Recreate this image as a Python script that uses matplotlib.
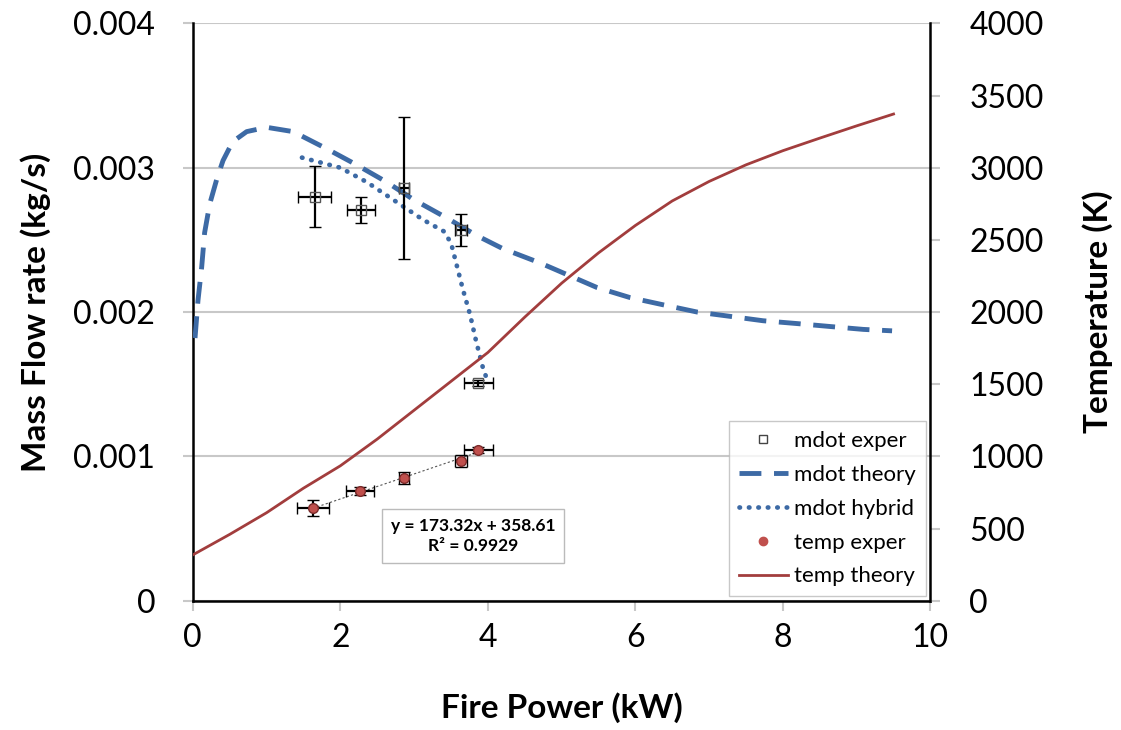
import matplotlib
matplotlib.use('Agg')
import matplotlib.pyplot as plt
from matplotlib.lines import Line2D
import numpy as np

plt.rcParams['font.family'] = ['Lato', 'DejaVu Sans']

# mdot experiments (kg/s)
mdot_x = [1.65, 2.28, 2.86, 3.64, 3.87]
mdot_y = [0.00280, 0.00271, 0.00286, 0.00257, 0.00151]
mdot_xerr = [0.22, 0.19, 0.07, 0.08, 0.20]
mdot_yerr = [0.00021, 0.00009, 0.00049, 0.00011, 0.00002]

# mdot theory
th_x = [0.03, 0.07, 0.12, 0.16, 0.23, 0.33, 0.41, 0.54, 0.73, 1.0, 1.36, 1.82, 2.22, 2.63,
        2.99, 3.45, 3.85, 4.2, 4.71, 5.48, 5.93, 6.38, 6.84, 7.29, 7.73, 8.2, 8.64, 9.09, 9.48]
th_y = [0.00182, 0.00208, 0.00231, 0.00255, 0.00275, 0.00293, 0.00305, 0.00318, 0.00325,
        0.00328, 0.00325, 0.00313, 0.00302, 0.00290, 0.00278, 0.00265, 0.00253, 0.00244,
        0.00234, 0.00217, 0.00210, 0.00205, 0.00200, 0.00197, 0.00194, 0.00192, 0.00190,
        0.00188, 0.00187]

# mdot hybrid
hy_x = [1.48, 2.0, 2.36, 2.77, 3.12, 3.4, 3.5, 3.58, 3.66, 3.76, 3.84, 3.93, 3.99]
hy_y = [0.00307, 0.00300, 0.00290, 0.00276, 0.00264, 0.00256, 0.00248, 0.00232,
        0.00216, 0.00198, 0.00180, 0.00162, 0.00153]

# temperature experiments (K)
temp_x = [1.63, 2.27, 2.86, 3.64, 3.87]
temp_y = [643, 761, 851, 969, 1045]
temp_xerr = [0.22, 0.19, 0.07, 0.08, 0.20]
temp_yerr = [55, 28, 40, 40, 20]

# temperature theory
tt_x = [0.0, 0.5, 1.0, 1.5, 2.0, 2.5, 3.0, 3.5, 4.0, 4.5, 5.0, 5.5, 6.0, 6.5, 7.0,
        7.5, 8.0, 8.5, 9.0, 9.5]
tt_y = [318, 460, 610, 780, 935, 1120, 1320, 1520, 1720, 1965, 2200, 2410, 2600, 2770,
        2905, 3020, 3118, 3205, 3290, 3372]

# linear trend of temp exper
fit_slope, fit_icpt = 173.32, 358.61

fig = plt.figure(figsize=(11.21, 7.30), dpi=100)
ax = fig.add_axes([0.172, 0.177, 0.658, 0.791])
ax2 = ax.twinx()

grid_c = '#c8c8c8'
blue = '#3d6aa5'
red = '#a23d3d'

ax.errorbar(mdot_x, mdot_y, xerr=mdot_xerr, yerr=mdot_yerr, fmt='s', ms=7, mfc='none',
            mec='#555555', mew=1, ecolor='k', elinewidth=1.6, capsize=4, capthick=1.6,
            zorder=4)
l_th, = ax.plot(th_x, th_y, ls=(0, (4.5, 2.6)), color=blue, lw=3.5, zorder=3)
l_hy, = ax.plot(hy_x, hy_y, ls=(0, (0.1, 1.9)), color=blue, lw=3.4, dash_capstyle='round',
                zorder=3)

fx = np.array([temp_x[0], temp_x[-1]])
ax2.plot(fx, fit_slope * fx + fit_icpt, ls=(0, (2, 2)), color='#555555', lw=0.8, zorder=2)
ax2.errorbar(temp_x, temp_y, xerr=temp_xerr, yerr=temp_yerr, fmt='o', ms=7, mfc='#c0504d',
             mec='#7a2a2a', mew=1, ecolor='k', elinewidth=1.6, capsize=4, capthick=1.6,
             zorder=4)
l_tt, = ax2.plot(tt_x, tt_y, color=red, lw=2, zorder=3)

ax.set_xlim(0, 10)
ax.set_ylim(0, 0.004)
ax2.set_ylim(0, 4000)
ax.set_xticks([0, 2, 4, 6, 8, 10])
ax.set_yticks([0, 0.001, 0.002, 0.003, 0.004])
ax.set_yticklabels(['0', '0.001', '0.002', '0.003', '0.004'])
ax2.set_yticks(np.arange(0, 4001, 500))

ax.yaxis.grid(True, color=grid_c, lw=1.5)
ax.set_axisbelow(True)
ax.spines['top'].set_visible(False)
ax2.spines['top'].set_visible(False)
ax2.spines['left'].set_visible(False)
ax2.spines['bottom'].set_visible(False)
ax.spines['right'].set_visible(False)
ax.spines['left'].set_linewidth(1.8)
ax.spines['bottom'].set_linewidth(1.8)
ax2.spines['right'].set_linewidth(1.8)

ax.tick_params(axis='x', length=7, width=1.5, color=grid_c, labelsize=23, pad=9)
ax.tick_params(axis='y', length=7, width=1.5, color=grid_c, labelsize=23, pad=20)
ax2.tick_params(axis='y', length=7, width=1.5, color=grid_c, labelsize=23, pad=21)

ax.set_xlabel('Fire Power (kW)', fontsize=24, fontweight='bold', labelpad=28)
ax.set_ylabel('Mass Flow rate (kg/s)', fontsize=24, fontweight='bold', labelpad=16)
ax2.set_ylabel('Temperature (K)', fontsize=24, fontweight='bold', labelpad=28)

handles = [Line2D([], [], ls='none', marker='s', ms=6, mfc='none', mec='#444444'),
           l_th, l_hy,
           Line2D([], [], ls='none', marker='o', ms=6, mfc='#c0504d', mec='#c0504d'),
           l_tt]
labels = ['mdot exper', 'mdot theory', 'mdot hybrid', 'temp exper', 'temp theory']
leg = ax2.legend(handles, labels, loc='lower right', bbox_to_anchor=(1.0, 0.0), fontsize=16,
                 frameon=True, fancybox=False, edgecolor='#bbbbbb', handlelength=2.2,
                 handletextpad=0.3, labelspacing=0.62, borderpad=0.45, borderaxespad=0.2)
leg.get_frame().set_linewidth(1)

ax2.text(3.8, 450, 'y = 173.32x + 358.61\nR\u00b2 = 0.9929', ha='center', va='center',
         fontsize=12.5, fontweight='bold', linespacing=1.35,
         bbox=dict(boxstyle='square,pad=0.5', fc='white', ec='#bbbbbb', lw=1))

fig.savefig('out.png', dpi=100)
